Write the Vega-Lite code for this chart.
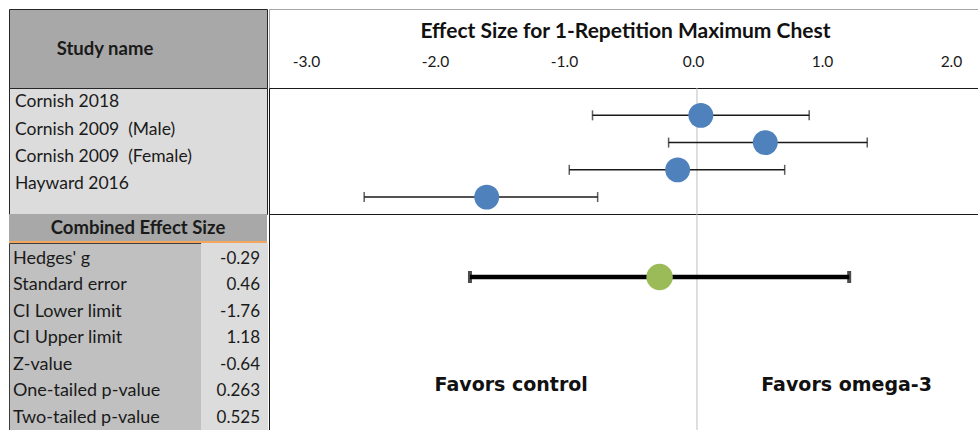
{
  "$schema": "https://vega.github.io/schema/vega-lite/v6.json",
  "background": "white",
  "padding": {"left": 8, "top": 8, "right": 0, "bottom": 0},
  "spacing": 0,
  "config": {"view": {"stroke": null}, "font": "Lato"},
  "datasets": {
    "studies": [
      {"study": "Cornish 2018", "g": 0.03, "lo": -0.81, "hi": 0.87},
      {"study": "Cornish 2009\u00a0 (Male)", "g": 0.53, "lo": -0.22, "hi": 1.32},
      {"study": "Cornish 2009\u00a0 (Female)", "g": -0.15, "lo": -0.99, "hi": 0.68},
      {"study": "Hayward 2016", "g": -1.63, "lo": -2.58, "hi": -0.77}
    ],
    "combined": [{"label": "Combined", "g": -0.29, "lo": -1.76, "hi": 1.18, "row": 1}],
    "favors": [
      {"text": "Favors control", "pos": -1.44, "row": 2},
      {"text": "Favors omega-3", "pos": 1.16, "row": 2}
    ],
    "stats": [
      {"stat": "Hedges' g", "value": "-0.29"},
      {"stat": "Standard error", "value": "0.46"},
      {"stat": "CI Lower limit", "value": "-1.76"},
      {"stat": "CI Upper limit", "value": "1.18"},
      {"stat": "Z-value", "value": "-0.64"},
      {"stat": "One-tailed p-value", "value": "0.263"},
      {"stat": "Two-tailed p-value", "value": "0.525"}
    ],
    "zero": [{"v": 0}]
  },
  "hconcat": [
    {
      "spacing": 0,
      "bounds": "flush",
      "vconcat": [
        {
          "width": 258, "height": 79,
          "view": {"fill": "#a8a8a8", "stroke": "#262626"},
          "data": {"values": [{"h": "Study name"}]},
          "mark": {"type": "text", "fontSize": 18.5, "fontWeight": "bold", "color": "#1a1a1a", "dx": -33},
          "encoding": {"text": {"field": "h", "type": "nominal"}}
        },
        {
          "width": 258, "height": 126,
          "view": {"fill": "#dcdcdc", "stroke": "#262626"},
          "data": {"name": "studies"},
          "mark": {"type": "text", "align": "left", "baseline": "middle", "fontSize": 17.5, "color": "#1a1a1a", "dx": 6},
          "encoding": {
            "x": {"datum": "Study", "type": "nominal", "axis": null, "scale": {"type": "band", "paddingInner": 0, "paddingOuter": 0}, "bandPosition": 0},
            "y": {"field": "study", "type": "nominal", "sort": null, "axis": null, "scale": {"type": "band", "paddingInner": 0, "paddingOuter": 0.312, "align": 0.05}},
            "text": {"field": "study", "type": "nominal"}
          }
        },
        {
          "width": 258, "height": 27,
          "view": {"fill": "#a8a8a8"},
          "data": {"values": [{"h": "Combined Effect Size"}]},
          "mark": {"type": "text", "fontSize": 18.5, "fontWeight": "bold", "color": "#1a1a1a"},
          "encoding": {"text": {"field": "h", "type": "nominal"}}
        },
        {
          "width": 258, "height": 2,
          "view": {"fill": "#f2a65e"},
          "data": {"values": []},
          "mark": "text"
        },
        {
          "spacing": 0,
          "bounds": "flush",
          "hconcat": [
            {
              "width": 192, "height": 188,
              "view": {"fill": "#c0c0c0", "stroke": "#3c3c3c"},
              "data": {"name": "stats"},
              "mark": {"type": "text", "align": "left", "baseline": "middle", "fontSize": 18, "color": "#1a1a1a", "dx": 4},
              "encoding": {
                "x": {"datum": "Statistic", "type": "nominal", "axis": null, "scale": {"type": "band", "paddingInner": 0, "paddingOuter": 0}, "bandPosition": 0},
                "y": {"field": "stat", "type": "nominal", "sort": null, "axis": null, "scale": {"type": "band", "paddingInner": 0, "paddingOuter": 0.05, "align": 1}},
                "text": {"field": "stat", "type": "nominal"}
              }
            },
            {
              "width": 66, "height": 188,
              "view": {"fill": "#dcdcdc", "stroke": "#dcdcdc"},
              "data": {"name": "stats"},
              "mark": {"type": "text", "align": "right", "baseline": "middle", "fontSize": 17, "color": "#1a1a1a", "dx": -7},
              "encoding": {
                "x": {"datum": "Value", "type": "nominal", "axis": null, "scale": {"type": "band", "paddingInner": 0, "paddingOuter": 0}, "bandPosition": 1},
                "y": {"field": "stat", "type": "nominal", "sort": null, "axis": null, "scale": {"type": "band", "paddingInner": 0, "paddingOuter": 0.05, "align": 1}},
                "text": {"field": "value", "type": "nominal"}
              }
            }
          ]
        }
      ]
    },
    {
      "spacing": 0,
      "bounds": "flush",
      "vconcat": [
        {
          "width": 712, "height": 79,
          "view": {"stroke": "#a6a6a6"},
          "data": {"values": []},
          "mark": "text"
        },
        {
          "width": 712, "height": 126,
          "view": {"stroke": "#1a1a1a"},
          "data": {"name": "studies"},
          "resolve": {"scale": {"y": "independent"}},
          "layer": [
            {
              "data": {"name": "zero"},
              "mark": {"type": "rule", "color": "#bfbfbf", "strokeWidth": 1},
              "encoding": {
                "x": {"field": "v", "type": "quantitative", "scale": {"domain": [-3.318, 2.202], "nice": false, "zero": false}}
              }
            },
            {
              "mark": {"type": "rule", "color": "#1a1a1a", "strokeWidth": 1.5},
              "encoding": {
                "x": {
                  "field": "lo", "type": "quantitative",
                  "scale": {"domain": [-3.318, 2.202], "nice": false, "zero": false},
                  "axis": {
                    "orient": "top", "offset": 19, "ticks": false, "domain": false, "grid": false,
                    "values": [-3, -2, -1, 0, 1, 2],
                    "format": ".1f",
                    "labelExpr": "replace(datum.label, '−', '-')",
                    "labelFont": "Lato", "labelFontSize": 15.5, "labelColor": "#1a1a1a",
                    "labelPadding": 0, "labelOffset": -4, "labelFlush": false, "labelOverlap": false,
                    "title": "Effect Size for 1-Repetition Maximum Chest",
                    "titleFont": "Lato", "titleFontSize": 21, "titleFontWeight": "bold", "titleColor": "#111111",
                    "titlePadding": 13
                  }
                },
                "x2": {"field": "hi"},
                "y": {"field": "study", "type": "nominal", "sort": null, "axis": null, "scale": {"type": "band", "paddingInner": 0, "paddingOuter": 0.312, "align": 0.806}}
              }
            },
            {
              "mark": {"type": "tick", "orient": "vertical", "color": "#1a1a1a", "thickness": 1.5, "size": 10},
              "encoding": {
                "x": {"field": "lo", "type": "quantitative"},
                "y": {"field": "study", "type": "nominal", "sort": null, "axis": null, "scale": {"type": "band", "paddingInner": 0, "paddingOuter": 0.312, "align": 0.806}}
              }
            },
            {
              "mark": {"type": "tick", "orient": "vertical", "color": "#1a1a1a", "thickness": 1.5, "size": 10},
              "encoding": {
                "x": {"field": "hi", "type": "quantitative"},
                "y": {"field": "study", "type": "nominal", "sort": null, "axis": null, "scale": {"type": "band", "paddingInner": 0, "paddingOuter": 0.312, "align": 0.806}}
              }
            },
            {
              "mark": {"type": "circle", "color": "#4f81bd", "opacity": 1, "size": 620},
              "encoding": {
                "x": {"field": "g", "type": "quantitative"},
                "y": {"field": "study", "type": "nominal", "sort": null, "axis": null, "scale": {"type": "band", "paddingInner": 0, "paddingOuter": 0.312, "align": 0.806}}
              }
            }
          ]
        },
        {
          "width": 712, "height": 217,
          "view": {"stroke": "#1a1a1a"},
          "data": {"name": "combined"},
          "layer": [
            {
              "data": {"name": "zero"},
              "mark": {"type": "rule", "color": "#bfbfbf", "strokeWidth": 1},
              "encoding": {
                "x": {"field": "v", "type": "quantitative", "scale": {"domain": [-3.318, 2.202], "nice": false, "zero": false}, "axis": null}
              }
            },
            {
              "mark": {"type": "rule", "color": "#000000", "strokeWidth": 4.5},
              "encoding": {
                "x": {"field": "lo", "type": "quantitative", "scale": {"domain": [-3.318, 2.202], "nice": false, "zero": false}, "axis": null},
                "x2": {"field": "hi"},
                "y": {"field": "row", "type": "quantitative", "axis": null, "scale": {"domain": [0.4167, 2.4259], "reverse": true, "nice": false, "zero": false}}
              }
            },
            {
              "mark": {"type": "tick", "orient": "vertical", "color": "#000000", "thickness": 4, "size": 12},
              "encoding": {
                "x": {"field": "lo", "type": "quantitative", "scale": {"domain": [-3.318, 2.202], "nice": false, "zero": false}, "axis": null},
                "y": {"field": "row", "type": "quantitative", "axis": null, "scale": {"domain": [0.4167, 2.4259], "reverse": true, "nice": false, "zero": false}}
              }
            },
            {
              "mark": {"type": "tick", "orient": "vertical", "color": "#000000", "thickness": 4, "size": 12},
              "encoding": {
                "x": {"field": "hi", "type": "quantitative", "scale": {"domain": [-3.318, 2.202], "nice": false, "zero": false}, "axis": null},
                "y": {"field": "row", "type": "quantitative", "axis": null, "scale": {"domain": [0.4167, 2.4259], "reverse": true, "nice": false, "zero": false}}
              }
            },
            {
              "mark": {"type": "circle", "color": "#9bbb59", "opacity": 1, "size": 700},
              "encoding": {
                "x": {"field": "g", "type": "quantitative", "scale": {"domain": [-3.318, 2.202], "nice": false, "zero": false}, "axis": null},
                "y": {"field": "row", "type": "quantitative", "axis": null, "scale": {"domain": [0.4167, 2.4259], "reverse": true, "nice": false, "zero": false}}
              }
            },
            {
              "data": {"name": "favors"},
              "mark": {"type": "text", "font": "DejaVu Sans", "fontWeight": "bold", "fontSize": 19, "color": "#111111", "baseline": "middle"},
              "encoding": {
                "x": {"field": "pos", "type": "quantitative", "scale": {"domain": [-3.318, 2.202], "nice": false, "zero": false}, "axis": null},
                "y": {"field": "row", "type": "quantitative", "axis": null, "scale": {"domain": [0.4167, 2.4259], "reverse": true, "nice": false, "zero": false}},
                "text": {"field": "text", "type": "nominal"}
              }
            }
          ]
        }
      ]
    }
  ]
}
